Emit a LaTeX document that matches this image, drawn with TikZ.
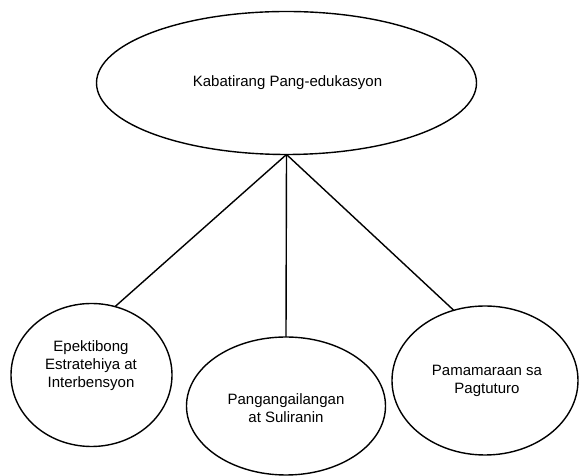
\documentclass[tikz,border=0pt]{standalone}
\usepackage{fontspec}
\setmainfont{Liberation Sans}
\usetikzlibrary{shapes.geometric}
\begin{document}
\begin{tikzpicture}[x=1pt,y=1pt,
  oval/.style={draw=black, line width=1.4pt, ellipse, inner sep=0pt, outer sep=0pt},
  txt/.style={align=center, inner sep=0pt, font=\fontsize{15}{18}\selectfont},
  link/.style={draw=black, line width=1.4pt}]
\useasboundingbox (0,0) rectangle (579,476);
\node[oval, minimum width=380pt, minimum height=143pt] (T) at (286.5,393) {};
\node[oval, minimum width=161pt, minimum height=143pt] (L) at (91.5,101) {};
\node[oval, minimum width=199pt, minimum height=138pt] (M) at (286,70) {};
\node[oval, minimum width=186pt, minimum height=149pt] (R) at (485,95.5) {};
\node[txt] (tT) at (287.5,393) {Kabatirang Pang-edukasyon};
\node[txt] (tL) at (91,110) {Epektibong\\Estratehiya at\\Interbensyon};
\node[txt] (tM) at (286,68) {Pangangailangan\\at Suliranin};
\node[txt] (tR) at (487,95) {Pamamaraan sa\\Pagtuturo};
\draw[link] (T.south) -- (L.71);
\draw[link] (T.south) -- (M.north);
\draw[link] (T.south) -- (R.114);
\end{tikzpicture}
\end{document}
